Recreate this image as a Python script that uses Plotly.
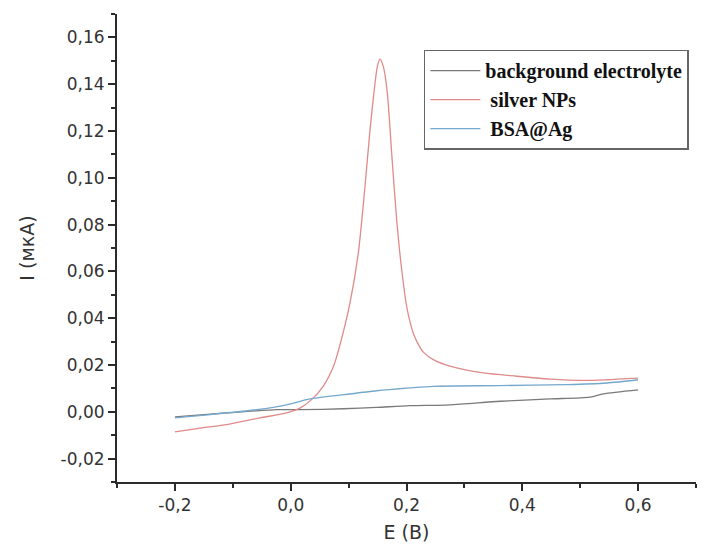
import plotly.graph_objects as go

# Potential (V) and current (uA) readings for the three voltammograms
e_background = [-0.2, -0.111, -0.024, 0.016, 0.091, 0.1485, 0.206, 0.275, 0.3615, 0.4478, 0.517, 0.54, 0.6]
i_background = [-0.0022, -0.0005, 0.0009, 0.0009, 0.0013, 0.0019, 0.0026, 0.0030, 0.0045, 0.0055, 0.0063, 0.0077, 0.0094]

e_silver = [-0.2, -0.15, -0.111, -0.053, -0.007, 0.016, 0.036, 0.056, 0.074, 0.085,
            0.1024, 0.1168, 0.1283, 0.137, 0.1456, 0.1496, 0.1542, 0.16, 0.1669, 0.1744,
            0.183, 0.1917, 0.2003, 0.206, 0.2118, 0.2233, 0.229, 0.2463, 0.2751, 0.3326,
            0.3903, 0.4478, 0.5054, 0.5458, 0.6]
i_silver = [-0.0086, -0.0068, -0.0055, -0.0026, -0.0005, 0.0016, 0.0052, 0.0109, 0.0195, 0.0285,
            0.0465, 0.0679, 0.0963, 0.1205, 0.1404, 0.1475, 0.1507, 0.1475, 0.1362, 0.1105,
            0.0821, 0.0607, 0.0450, 0.0385, 0.0335, 0.0275, 0.0255, 0.0223, 0.0195, 0.0166,
            0.0152, 0.0140, 0.0134, 0.0137, 0.0144]

e_bsa = [-0.2, -0.139, -0.059, -0.007, 0.0333, 0.091, 0.1485, 0.206, 0.2463, 0.3615, 0.4767, 0.5458, 0.6]
i_bsa = [-0.0026, -0.0012, 0.0009, 0.0030, 0.0055, 0.0073, 0.0090, 0.0102, 0.0109, 0.0112, 0.0116, 0.0123, 0.0137]

series_names = ["background electrolyte", "\u00a0silver NPs", "\u00a0BSA@Ag"]
series_colors = ["#7a7a7a", "#e08a8a", "#74a8cc"]

x_tickvals = [-0.2, 0.0, 0.2, 0.4, 0.6]
x_ticktext = ["-0,2", "0,0", "0,2", "0,4", "0,6"]
y_tickvals = [-0.02, 0.0, 0.02, 0.04, 0.06, 0.08, 0.10, 0.12, 0.14, 0.16]
y_ticktext = ["-0,02", "0,00", "0,02", "0,04", "0,06", "0,08", "0,10", "0,12", "0,14", "0,16"]

fig = go.Figure()
for idx, (xs, ys) in enumerate([(e_background, i_background), (e_silver, i_silver), (e_bsa, i_bsa)]):
    fig.add_trace(go.Scatter(
        x=xs, y=ys, mode="lines",
        name="<b>" + series_names[idx] + "</b>",
        legendgroup=f"g{idx}",
        line=dict(color=series_colors[idx], width=1.3, shape="spline", smoothing=0.7),
    ))

axis_common = dict(
    showline=True, linecolor="#2b2b2b", linewidth=2,
    ticks="outside", ticklen=7, tickwidth=2, tickcolor="#2b2b2b",
    showgrid=False, zeroline=False,
    tickfont=dict(family="DejaVu Sans", size=17, color="#333333"),
)

fig.update_xaxes(
    range=[-0.3, 0.7], tickvals=x_tickvals, ticktext=x_ticktext,
    minor=dict(dtick=0.1, tick0=-0.3, ticks="outside", ticklen=4, tickwidth=2, tickcolor="#2b2b2b"),
    title=dict(text="E (B)", font=dict(family="DejaVu Sans", size=19, color="#333333"), standoff=11),
    **axis_common,
)
fig.update_yaxes(
    range=[-0.03, 0.17], tickvals=y_tickvals, ticktext=y_ticktext,
    minor=dict(dtick=0.01, tick0=-0.03, ticks="outside", ticklen=4, tickwidth=2, tickcolor="#2b2b2b"),
    title=dict(text="I (мкA)", font=dict(family="DejaVu Sans", size=19, color="#333333"), standoff=21),
    **axis_common,
)

fig.update_layout(
    width=716, height=556,
    margin=dict(l=117, r=20, t=14, b=74),
    paper_bgcolor="white", plot_bgcolor="white",
    showlegend=True,
    legend=dict(
        x=0.530, y=0.924, xanchor="left", yanchor="top",
        bgcolor="white", bordercolor="#666666", borderwidth=1.5,
        font=dict(family="Liberation Serif", size=20, color="#111111"),
        itemwidth=50, tracegroupgap=0,
    ),
)

fig.write_html("out.html")
